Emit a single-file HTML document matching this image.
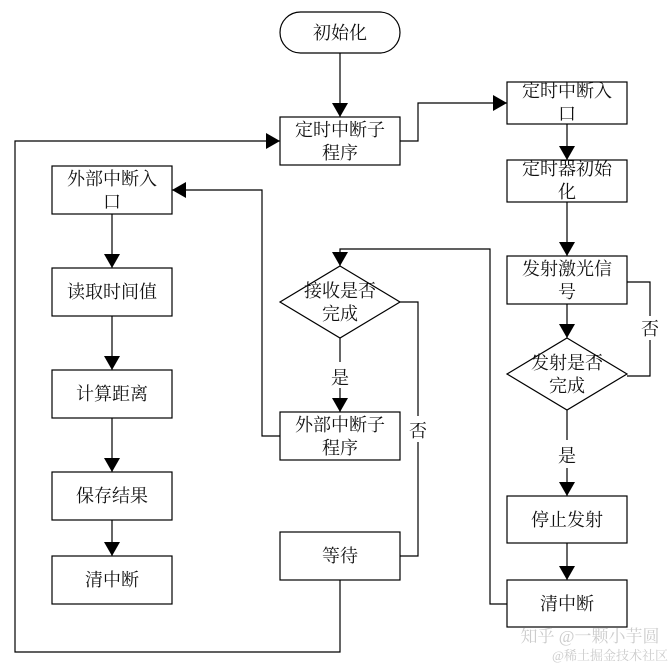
<!DOCTYPE html>
<html><head><meta charset="utf-8"><style>
body{margin:0;background:#fff}
svg text{font-family:"Liberation Serif","Noto Serif CJK SC",serif;font-size:18px;fill:#111;text-anchor:middle}
</style></head><body>
<svg width="672" height="665" viewBox="0 0 672 665" xmlns="http://www.w3.org/2000/svg">
<defs><marker id="a" markerWidth="10" markerHeight="10" refX="9" refY="5" orient="auto" markerUnits="userSpaceOnUse"><path d="M0,0 L10,5 L0,10 z" fill="#000"/></marker>
<marker id="b" markerWidth="14" markerHeight="16" refX="14" refY="8" orient="auto" markerUnits="userSpaceOnUse"><path d="M0,0 L14,8 L0,16 z" fill="#000"/></marker></defs>
<g fill="none" stroke="#000" stroke-width="1.2">
<rect x="280" y="12" width="120" height="41" rx="20.5"/>
<rect x="280" y="117" width="120" height="48"/>
<rect x="507" y="82" width="120" height="42"/>
<rect x="507" y="160" width="120" height="42"/>
<rect x="507" y="256" width="120" height="48"/>
<polygon points="567,338 627,374 567,410 507,374"/>
<rect x="507" y="496" width="120" height="47"/>
<rect x="507" y="580" width="120" height="47"/>
<rect x="52" y="166" width="120" height="48"/>
<rect x="52" y="268" width="120" height="48"/>
<rect x="52" y="370" width="120" height="48"/>
<rect x="52" y="472" width="120" height="48"/>
<rect x="52" y="556" width="120" height="48"/>
<polygon points="340,266 400,302 340,338 280,302"/>
<rect x="280" y="412" width="120" height="48"/>
<rect x="280" y="532" width="120" height="48"/>
</g>
<g fill="none" stroke="#000" stroke-width="1.2" marker-end="url(#b)">
<path d="M340,53 V117"/>
<path d="M400,141 H418 V103 H507"/>
<path d="M567,124 V160"/>
<path d="M567,202 V256"/>
<path d="M567,304 V338"/>
<path d="M567,468 V496"/>
<path d="M567,543 V580"/>
<path d="M112,214 V268"/>
<path d="M112,316 V370"/>
<path d="M112,418 V472"/>
<path d="M112,520 V556"/>
<path d="M340,388 V412"/>
<path d="M340,580 V652 H15 V141 H280"/>
<path d="M507,604 H490 V249 H340 V266"/>
<path d="M280,436 H262 V190 H172"/>
</g>
<g fill="none" stroke="#000" stroke-width="1.2">
<path d="M340,338 V362"/>
<path d="M567,410 V440"/>
<path d="M627,282 H650 V316 M650,340 V376 H627"/>
<path d="M400,302 H418 V416 M418,442 V556 H400"/>
</g>
<text x="340" y="39">初始化</text>
<text x="340" y="136">定时中断子</text><text x="340" y="159">程序</text>
<text x="567" y="97">定时中断入</text><text x="567" y="120">口</text>
<text x="567" y="175">定时器初始</text><text x="567" y="198">化</text>
<text x="567" y="275">发射激光信</text><text x="567" y="298">号</text>
<text x="567" y="369">发射是否</text><text x="567" y="392">完成</text>
<text x="567" y="526">停止发射</text>
<text x="567" y="610">清中断</text>
<text x="112" y="185">外部中断入</text><text x="112" y="208">口</text>
<text x="112" y="298">读取时间值</text>
<text x="112" y="400">计算距离</text>
<text x="112" y="502">保存结果</text>
<text x="112" y="586">清中断</text>
<text x="340" y="297">接收是否</text><text x="340" y="320">完成</text>
<text x="340" y="431">外部中断子</text><text x="340" y="454">程序</text>
<text x="340" y="562">等待</text>
<text x="340" y="384">是</text>
<text x="567" y="462">是</text>
<text x="650" y="335">否</text>
<text x="418" y="437">否</text>
<text x="590" y="642" style="fill:#ccc;font-size:17px">知乎 @一颗小芋圆</text>
<text x="610" y="660" style="fill:#ccc;font-size:13px">@稀土掘金技术社区</text>
</svg>
</body></html>
